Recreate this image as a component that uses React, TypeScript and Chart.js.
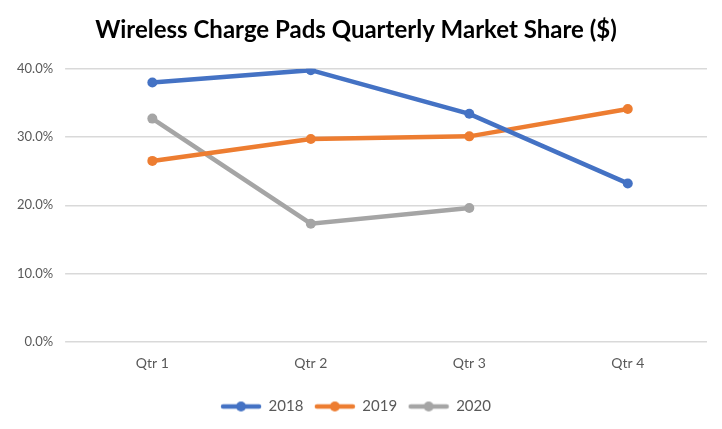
import React, { useEffect, useRef } from "react";
import { Chart, registerables } from "chart.js";

Chart.register(...registerables);

const categories = ["Qtr 1", "Qtr 2", "Qtr 3", "Qtr 4"];
const series2018 = [0.380, 0.398, 0.334, 0.232];
const series2019 = [0.265, 0.297, 0.301, 0.341];
const series2020 = [0.327, 0.173, 0.196, null];
const yTicks = [0, 0.1, 0.2, 0.3, 0.4];

const BLUE = "#4472C4";
const ORANGE = "#ED7D31";
const GRAY = "#A5A5A5";

function legendIcon(color: string): HTMLCanvasElement {
  const w = 42, h = 12;
  const c = document.createElement("canvas");
  c.width = w;
  c.height = h;
  const ctx = c.getContext("2d")!;
  ctx.strokeStyle = color;
  ctx.lineWidth = 4.5;
  ctx.lineCap = "round";
  ctx.beginPath();
  ctx.moveTo(3, h / 2);
  ctx.lineTo(w - 3, h / 2);
  ctx.stroke();
  ctx.fillStyle = color;
  ctx.beginPath();
  ctx.arc(w / 2, h / 2, 5, 0, Math.PI * 2);
  ctx.fill();
  return c;
}

export default function App() {
  const ref = useRef<HTMLCanvasElement>(null);
  useEffect(() => {
    document.body.style.margin = "0";
    const names = ["2018", "2019", "2020"];
    const colors = [BLUE, ORANGE, GRAY];
    const data = [series2018, series2019, series2020];
    const chart = new Chart(ref.current!, {
      type: "line",
      data: {
        labels: categories,
        datasets: names.map((n, i) => ({
          label: n,
          data: data[i],
          borderColor: colors[i],
          backgroundColor: colors[i],
          borderWidth: 4.5,
          pointRadius: 5,
          pointHoverRadius: 5,
          pointBackgroundColor: colors[i],
          pointBorderColor: colors[i],
          pointBorderWidth: 0,
          tension: 0,
          spanGaps: false,
        })),
      },
      options: {
        animation: false,
        responsive: false,
        maintainAspectRatio: false,
        layout: { padding: { left: 5, right: 15, top: 10, bottom: 5 } },
        plugins: {
          title: {
            display: true,
            text: "Wireless Charge Pads Quarterly Market Share ($)",
            color: "#000000",
            font: { family: "Lato", size: 24, weight: "bold" },
            padding: { top: 6, bottom: 24 },
          },
          legend: {
            position: "bottom",
            labels: {
              usePointStyle: true,
              pointStyleWidth: 40,
              boxHeight: 12,
              color: "#595959",
              font: { family: "Lato", size: 15 },
              padding: 11.5,
              generateLabels: (ch: any) =>
                ch.data.datasets.map((ds: any, i: number) => ({
                  text: ds.label,
                  pointStyle: legendIcon(colors[i]),
                  fillStyle: colors[i],
                  strokeStyle: colors[i],
                  lineWidth: 0,
                  fontColor: "#595959",
                  hidden: false,
                  datasetIndex: i,
                })),
            },
          },
          tooltip: { enabled: false },
        },
        scales: {
          x: {
            offset: true,
            grid: { display: false },
            border: { display: false },
            afterFit: (axis: any) => {
              axis.height += 11;
            },
            ticks: {
              color: "#595959",
              font: { family: "Lato", size: 14 },
              padding: 5,
            },
          },
          y: {
            min: 0,
            max: 0.4,
            afterBuildTicks: (axis: any) => {
              axis.ticks = yTicks.map((v) => ({ value: v }));
            },
            grid: { color: "#D9D9D9", lineWidth: 1.5 },
            border: { display: false },
            ticks: {
              color: "#595959",
              font: { family: "Lato", size: 13 },
              padding: 12,
              callback: (v: any) => (Number(v) * 100).toFixed(1) + "%",
            },
          },
        },
      },
    });
    return () => chart.destroy();
  }, []);
  return (
    <div style={{ width: 722, height: 429 }}>
      <canvas ref={ref} width={722} height={429} style={{ width: 722, height: 429 }} />
    </div>
  );
}
